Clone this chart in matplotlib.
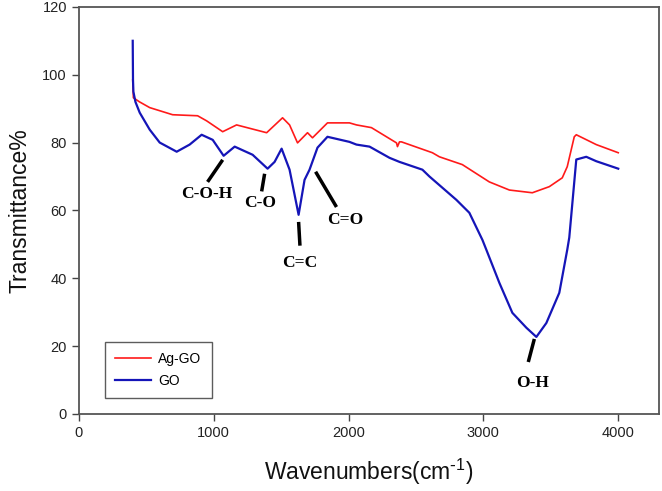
import matplotlib
matplotlib.use('Agg')
from matplotlib import pyplot as plt

plt.rcParams['font.family'] = 'Liberation Sans'
plt.rcParams['mathtext.default'] = 'regular'

# GO spectrum (blue)
go_x = [400, 402, 405, 420, 452, 526, 600, 726, 822, 911, 993, 1074, 1156, 1289,
        1400, 1452, 1504, 1563, 1630, 1674, 1711, 1770, 1844, 2007, 2059, 2156,
        2304, 2378, 2548, 2600, 2800, 2896, 2993, 3022, 3119, 3215, 3319, 3393,
        3467, 3563, 3622, 3637, 3689, 3763, 3837, 4000]
go_y = [110, 98.5, 95, 92, 88.8, 83.8, 80, 77.3, 79.4, 82.3, 80.8, 76.1, 78.8, 76.4,
        72.3, 74.3, 78.2, 72, 58.7, 69, 72, 78.5, 81.7, 80.2, 79.4, 78.8,
        75.5, 74.3, 72, 70, 63.1, 59.3, 51.3, 48.4, 38.6, 29.8, 25.4, 22.7,
        26.8, 35.7, 48.4, 52, 75, 75.8, 74.5, 72.3]

# Ag-GO spectrum (red)
aggo_x = [400, 405, 450, 526, 696, 881, 948, 1067, 1170, 1393, 1511, 1563, 1622,
          1696, 1733, 1844, 2007, 2059, 2170, 2356, 2363, 2378, 2393, 2622, 2674,
          2844, 3044, 3193, 3363, 3489, 3585, 3622, 3674, 3689, 3837, 4000]
aggo_y = [98.5, 93.2, 92, 90.3, 88.2, 87.9, 86.4, 83.2, 85.2, 82.9, 87.3, 85.2, 79.9,
          82.9, 81.4, 85.8, 85.8, 85.2, 84.4, 79.9, 78.8, 80.2, 80.2, 77, 75.8,
          73.5, 68.4, 66, 65.2, 67, 69.6, 72.9, 81.7, 82.3, 79.4, 77]

# peak labels: text, text position, line start, line end
peak_names = ['C-O-H', 'C-O', 'C=C', 'C=O', 'O-H']
peak_text = [(948, 64.8), (1348, 62.2), (1637, 44.5), (1978, 57.2), (3363, 9.0)]
peak_line = [((955, 68.4), (1067, 74.9)),
             ((1356, 65.6), (1378, 70.8)),
             ((1630, 56.6), (1640, 49.6)),
             ((1911, 61.0), (1756, 71.4)),
             ((3378, 22.1), (3333, 15.3))]

fig = plt.figure(figsize=(6.62, 4.91), dpi=100)
ax = fig.add_axes([0.119, 0.157, 0.876, 0.829])

ax.plot(aggo_x, aggo_y, color='#ff1a1a', linewidth=1.2, label='Ag-GO')
ax.plot(go_x, go_y, color='#1515b8', linewidth=1.6, label='GO')

for name, (tx, ty), ((x0, y0), (x1, y1)) in zip(peak_names, peak_text, peak_line):
    ax.plot([x0, x1], [y0, y1], color='black', linewidth=2.5, solid_capstyle='butt')
    ax.text(tx, ty, name, ha='center', va='center', fontsize=12.5,
            fontweight='bold', family='Liberation Serif')

ax.set_xlim(0, 4300)
ax.set_ylim(0, 120)
ax.set_xticks([0, 1000, 2000, 3000, 4000])
ax.set_yticks([0, 20, 40, 60, 80, 100, 120])
ax.tick_params(direction='out', length=5, width=1, colors='#444444',
               labelsize=10.5, labelcolor='#222222')
for s in ax.spines.values():
    s.set_color('#555555')
    s.set_linewidth(1.3)

ax.set_xlabel(r'Wavenumbers(cm$^{\text{-}1}$)', fontsize=16.5, color='#111111',
              labelpad=12)
ax.set_ylabel('Transmittance%', fontsize=16.5, color='#111111', labelpad=8)

leg = ax.legend(loc='lower left', bbox_to_anchor=(0.045, 0.039), borderaxespad=0,
                fancybox=False, edgecolor='#333333', fontsize=10,
                handlelength=2.6, labelspacing=0.55, borderpad=0.75,
                handletextpad=0.5)
leg.get_frame().set_linewidth(1.0)

plt.savefig('out.png', dpi=100)
